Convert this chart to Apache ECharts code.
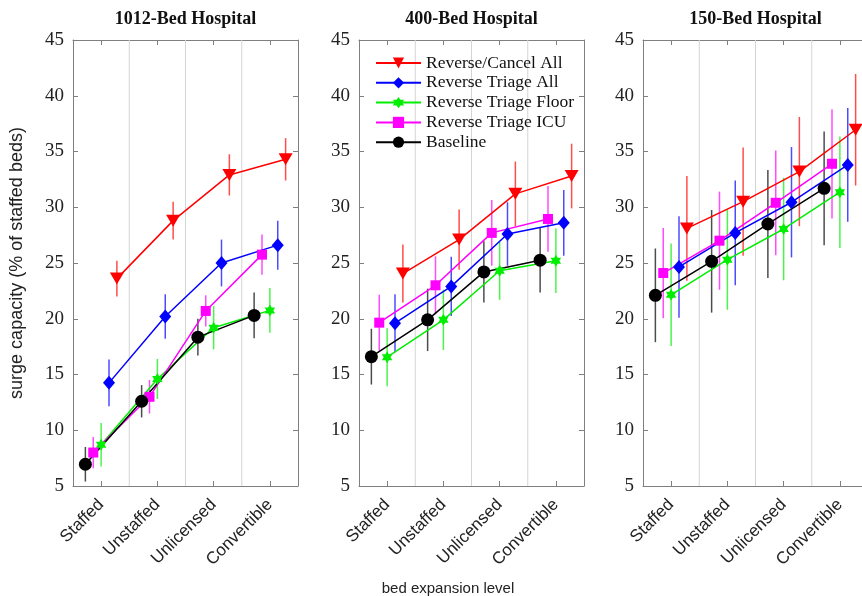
<!DOCTYPE html>
<html><head><meta charset="utf-8">
<script src="https://cdn.jsdelivr.net/npm/echarts@6/dist/echarts.min.js"></script>
<style>html,body{margin:0;padding:0;background:#fff}#c{width:862px;height:596px}</style>
</head><body><div id="c"></div>
<script>
const categories = ['Staffed', 'Unstaffed', 'Unlicensed', 'Convertible'];
const hospitals = ['1012-Bed Hospital', '400-Bed Hospital', '150-Bed Hospital'];
const seriesNames = ['Reverse/Cancel All', 'Reverse Triage All', 'Reverse Triage Floor', 'Reverse Triage ICU', 'Baseline'];
const yTicks = [5, 10, 15, 20, 25, 30, 35, 40, 45];
const yTitle = 'surge capacity (% of staffed beds)';
const xTitle = 'bed expansion level';

// 1012-bed hospital
const cancelAll_1012 = [23.6, 28.8, 32.9, 34.3];
const cancelAllErr_1012 = [1.6, 1.7, 1.85, 1.9];
const triageAll_1012 = [14.25, 20.2, 25.0, 26.6];
const triageAllErr_1012 = [2.1, 2.0, 2.1, 2.2];
const triageFloor_1012 = [8.7, 14.6, 19.2, 20.75];
const triageFloorErr_1012 = [1.95, 1.8, 1.95, 2.0];
const triageICU_1012 = [8.0, 13.0, 20.7, 25.75];
const triageICUErr_1012 = [1.4, 1.5, 1.4, 1.8];
const baseline_1012 = [6.95, 12.6, 18.35, 20.3];
const baselineErr_1012 = [1.55, 1.45, 1.65, 2.05];

// 400-bed hospital
const cancelAll_400 = [24.05, 27.1, 31.2, 32.8];
const cancelAllErr_400 = [2.6, 2.7, 2.9, 2.9];
const triageAll_400 = [19.6, 22.9, 27.6, 28.6];
const triageAllErr_400 = [2.6, 2.65, 2.85, 2.95];
const triageFloor_400 = [16.55, 19.9, 24.3, 25.2];
const triageFloorErr_400 = [2.6, 2.7, 2.6, 2.9];
const triageICU_400 = [19.65, 23.0, 27.7, 28.95];
const triageICUErr_400 = [2.5, 2.6, 2.95, 2.95];
const baseline_400 = [16.6, 19.9, 24.2, 25.25];
const baselineErr_400 = [2.5, 2.8, 2.75, 2.9];

// 150-bed hospital
const cancelAll_150 = [28.1, 30.5, 33.2, 36.95];
const cancelAllErr_150 = [4.7, 4.85, 4.9, 5.0];
const triageAll_150 = [24.65, 27.7, 30.45, 33.8];
const triageAllErr_150 = [4.55, 4.7, 4.95, 5.1];
const triageFloor_150 = [22.15, 25.3, 28.05, 31.35];
const triageFloorErr_150 = [4.6, 4.5, 4.6, 5.0];
const triageICU_150 = [24.1, 27.0, 30.4, 33.9];
const triageICUErr_150 = [4.05, 4.4, 4.7, 4.9];
const baseline_150 = [22.1, 25.15, 28.5, 31.7];
const baselineErr_150 = [4.2, 4.6, 4.85, 5.1];

const panelValues = [
  [cancelAll_1012, triageAll_1012, triageFloor_1012, triageICU_1012, baseline_1012],
  [cancelAll_400, triageAll_400, triageFloor_400, triageICU_400, baseline_400],
  [cancelAll_150, triageAll_150, triageFloor_150, triageICU_150, baseline_150]
];
const panelErrors = [
  [cancelAllErr_1012, triageAllErr_1012, triageFloorErr_1012, triageICUErr_1012, baselineErr_1012],
  [cancelAllErr_400, triageAllErr_400, triageFloorErr_400, triageICUErr_400, baselineErr_400],
  [cancelAllErr_150, triageAllErr_150, triageFloorErr_150, triageICUErr_150, baselineErr_150]
];

// styling
function hexagramPath() {
  let d = '';
  for (let k = 0; k < 12; k++) {
    const a = (k * 30 - 90) * Math.PI / 180;
    const r = k % 2 ? 0.5774 : 1;
    d += (k ? 'L' : 'M') + (r * Math.cos(a)).toFixed(3) + ' ' + (r * Math.sin(a)).toFixed(3) + ' ';
  }
  return 'path://' + d + 'Z';
}
const colors = ['#ff0000', '#0000ff', '#00ee00', '#ff00ff', '#000000'];
const symbols = ['triangle', 'diamond', hexagramPath(), 'rect', 'circle'];
const symbolSizes = [[14, 12], [12, 14], 12, 10, 13];
const symbolRotates = [180, 0, 0, 0, 0];
const offsets = [0.28, 0.14, 0, -0.14, -0.28];
const gridLefts = [73, 359, 643];
const gridTop = 40, gridW = 225, gridH = 446;
const axisGray = '#7f7f7f';

const grids = [], xAxes = [], yAxes = [], series = [], graphics = [];
for (let p = 0; p < 3; p++) {
  grids.push({left: gridLefts[p], top: gridTop, width: gridW, height: gridH,
    containLabel: false, outerBoundsMode: 'none'});
  const xBase = {
    gridIndex: p, type: 'value', min: 0.5, max: 4.5, interval: 0.5,
    axisLine: {show: true, lineStyle: {color: axisGray, width: 1}},
    axisTick: {show: true, inside: true, length: 5, customValues: [1, 2, 3, 4], lineStyle: {color: axisGray}},
    splitLine: {show: false}
  };
  xAxes.push(Object.assign({}, xBase, {
    position: 'bottom',
    axisLabel: {
      customValues: [1, 2, 3, 4], rotate: 45, margin: 16,
      fontFamily: 'Liberation Sans', fontSize: 17, color: '#222',
      formatter: v => (Number.isInteger(v) && v >= 1 && v <= 4) ? categories[v - 1] : ''
    }
  }));
  xAxes.push(Object.assign({}, xBase, {position: 'top', axisLabel: {show: false}}));
  const yBase = {
    gridIndex: p, type: 'value', min: 5, max: 45, interval: 5,
    axisLine: {show: true, lineStyle: {color: axisGray, width: 1}},
    axisTick: {show: true, inside: true, length: 5, lineStyle: {color: axisGray}},
    splitLine: {show: false}
  };
  yAxes.push(Object.assign({}, yBase, {
    position: 'left',
    axisLabel: {fontFamily: 'Liberation Serif', fontSize: 19, color: '#222', margin: 9,
      formatter: v => yTicks.indexOf(v) >= 0 ? String(v) : ''},
    name: p === 0 ? yTitle : '',
    nameLocation: 'middle', nameGap: 47,
    nameTextStyle: {fontFamily: 'Liberation Sans', fontSize: 18, color: '#222'}
  }));
  yAxes.push(Object.assign({}, yBase, {position: 'right', axisLabel: {show: false}}));

  // category separators
  series.push({
    type: 'custom', xAxisIndex: p * 2, yAxisIndex: p * 2, silent: true, z: 1,
    data: [[1.5], [2.5], [3.5]], encode: {x: 0},
    renderItem: (params, api) => {
      const cs = params.coordSys;
      const x = api.coord([api.value(0), 25])[0];
      return {type: 'line', shape: {x1: x, y1: cs.y, x2: x, y2: cs.y + cs.height},
        style: {stroke: '#d4d4d4', lineWidth: 1}};
    }
  });

  for (let s = 0; s < 5; s++) {
    const vals = panelValues[p][s], errs = panelErrors[p][s];
    const col = colors[s];
    series.push({
      type: 'custom', xAxisIndex: p * 2, yAxisIndex: p * 2, silent: true, z: 2,
      data: vals.map((v, i) => [i + 1 + offsets[s], v - errs[i], v + errs[i]]),
      encode: {x: 0, y: [1, 2]},
      renderItem: (params, api) => {
        const a = api.coord([api.value(0), api.value(1)]);
        const b = api.coord([api.value(0), api.value(2)]);
        return {type: 'line', shape: {x1: a[0], y1: a[1], x2: b[0], y2: b[1]},
          style: {stroke: col, lineWidth: 1.5, opacity: 0.7}};
      }
    });
    series.push({
      type: 'line', name: seriesNames[s], xAxisIndex: p * 2, yAxisIndex: p * 2, z: 3,
      data: vals.map((v, i) => [i + 1 + offsets[s], v]),
      symbol: symbols[s], symbolSize: symbolSizes[s], symbolRotate: symbolRotates[s],
      symbolKeepAspect: s === 2,
      showSymbol: true, showAllSymbol: true,
      lineStyle: {color: col, width: 1.5},
      itemStyle: {color: col, borderWidth: 0},
      emphasis: {disabled: true}
    });
  }
  graphics.push({
    type: 'text', x: gridLefts[p] + gridW / 2, y: 19,
    style: {text: hospitals[p], fill: '#111', font: 'bold 18px "Liberation Serif"',
      align: 'center', verticalAlign: 'middle', textAlign: 'center', textVerticalAlign: 'middle'}
  });
}
graphics.push({
  type: 'text', x: 448, y: 589,
  style: {text: xTitle, fill: '#222', font: '15px "Liberation Sans"',
    align: 'center', verticalAlign: 'middle', textAlign: 'center', textVerticalAlign: 'middle'}
});

const chart = echarts.init(document.getElementById('c'), null, {renderer: 'canvas'});
chart.setOption({
  animation: false,
  backgroundColor: '#fff',
  grid: grids, xAxis: xAxes, yAxis: yAxes, series: series,
  graphic: graphics,
  legend: {
    data: seriesNames, orient: 'vertical', left: 375, top: 54, padding: 0,
    itemWidth: 45, itemHeight: 14, itemGap: 1.8, selectedMode: false,
    textStyle: {fontFamily: 'Liberation Serif', fontSize: 17.5, color: '#111', lineHeight: 17.5}
  }
});
</script></body></html>
